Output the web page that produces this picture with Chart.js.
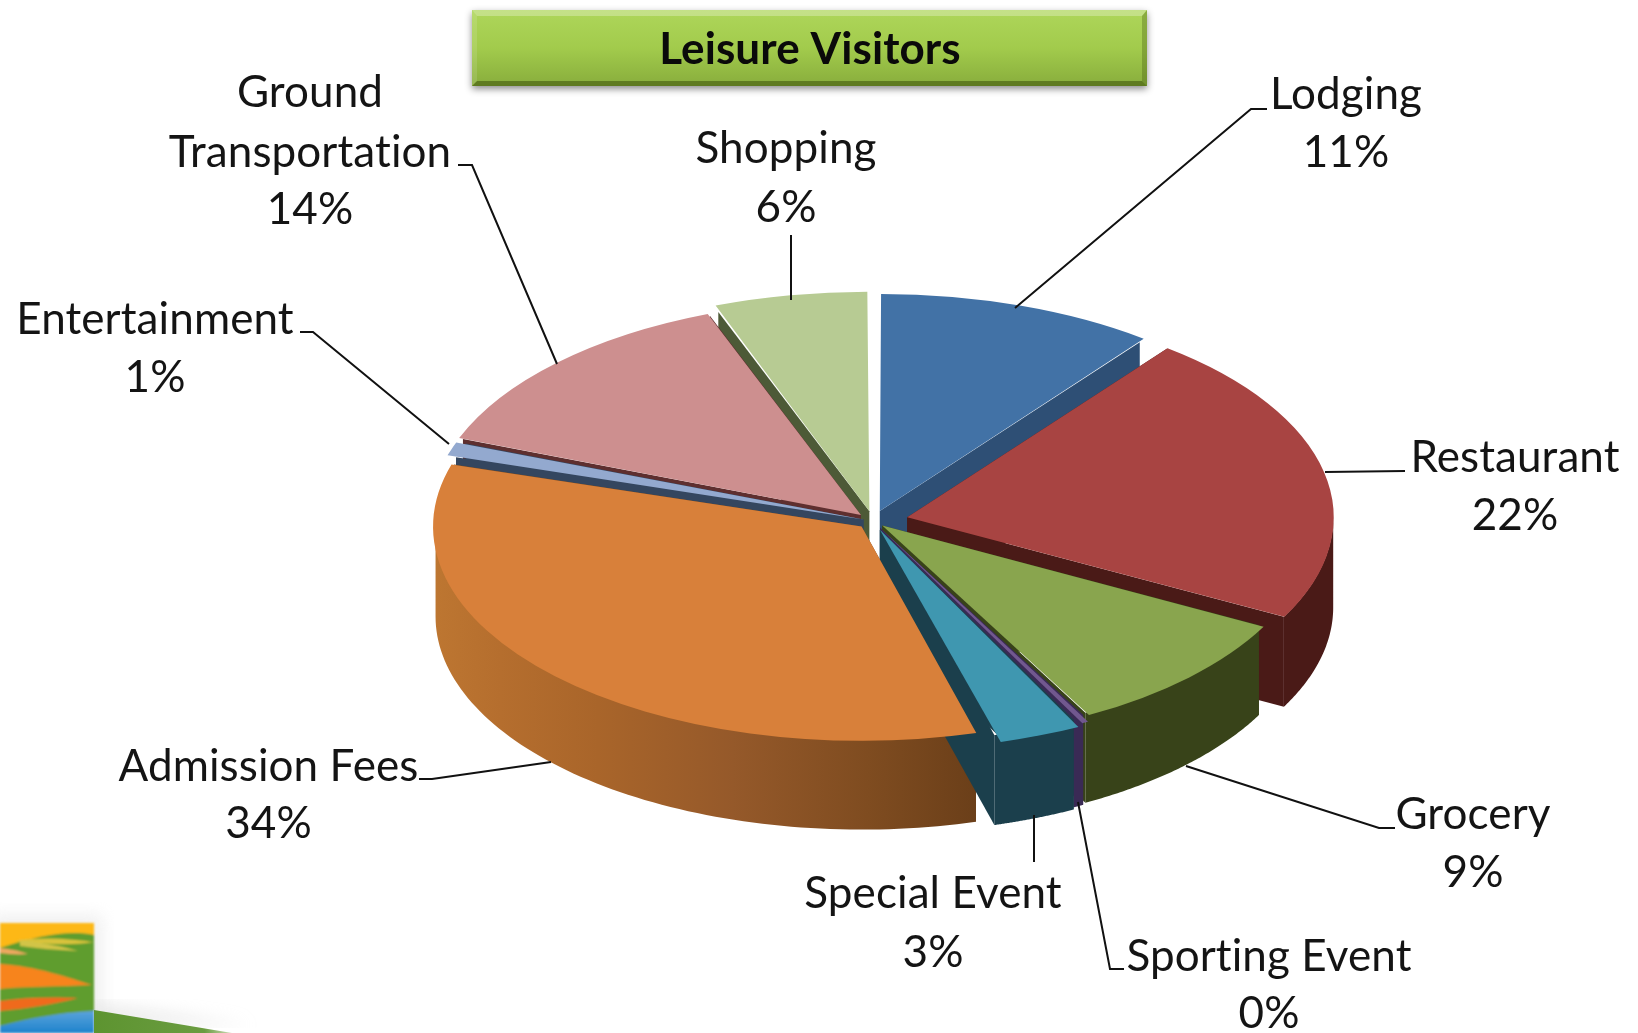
<!DOCTYPE html>
<html><head><meta charset="utf-8">
<style>
html,body{margin:0;padding:0;background:#fff;overflow:hidden}
#logo{position:absolute;left:0;top:0}
#c{position:absolute;left:0;top:0}
</style>
<script src="https://cdn.jsdelivr.net/npm/chart.js@4/dist/chart.umd.min.js"></script>
</head><body>
<svg id="logo" width="1638" height="1033" viewBox="0 0 1638 1033">
<defs>
<filter id="b"><feGaussianBlur stdDeviation="8"/></filter>
<filter id="s"><feGaussianBlur stdDeviation="0.9"/></filter>
<linearGradient id="sky" x1="0" y1="0" x2="0" y2="1"><stop offset="0" stop-color="#5ba3dc"/><stop offset="1" stop-color="#1e83cc"/></linearGradient>
<linearGradient id="ramp" x1="0" y1="0" x2="1" y2="0"><stop offset="0" stop-color="#5d9430"/><stop offset=".8" stop-color="#6a9c40"/><stop offset="1" stop-color="#cfdcb8"/></linearGradient>
</defs>
<rect x="-10" y="915" width="112" height="125" fill="#ddd" opacity=".45" filter="url(#b)"/>
<path d="M94 1010 L250 1033 L94 1033Z" fill="#d8d8d8" opacity=".5" filter="url(#b)" transform="translate(0,-8)"/>
<g filter="url(#s)">
<rect x="0" y="923" width="94" height="110" fill="#5f9d2e"/>
<path d="M0 923H94V935C70 930 40 935 0 948Z" fill="#fdb813"/>
<path d="M15 941C45 936 75 940 94 942C70 946 45 944 15 941Z" fill="#d9c33a"/>
<path d="M20 940C45 943 65 947 78 951C55 950 35 948 20 946Z" fill="#d2c446"/>
<path d="M0 948C10 949 20 951 28 954C18 955 8 954 0 953Z" fill="#f0a860"/>
<path d="M0 964C35 966 70 978 92 985C60 987 25 986 0 989Z" fill="#f7841e"/>
<path d="M0 1001C25 997 55 997 78 998C55 1004 25 1009 0 1011Z" fill="#ef6a1e"/>
<path d="M0 1026C30 1018 65 1012 94 1011V1033H0Z" fill="url(#sky)"/>
</g>
<path d="M94 1010 L232 1033 L94 1033Z" fill="url(#ramp)"/>
</svg>
<canvas id="c" width="1638" height="1033"></canvas>
<script>
const chartTitle = "Leisure Visitors";
const categories = ["Lodging","Restaurant","Grocery","Sporting Event","Special Event","Admission Fees","Entertainment","Ground Transportation","Shopping"];
const shares = [10.5,22.4,9.4,0.4,3.2,34.2,1.1,13.5,5.8];
const labelLines = [["Lodging"],["Restaurant"],["Grocery"],["Sporting Event"],["Special Event"],["Admission Fees"],["Entertainment"],["Ground","Transportation"],["Shopping"]];
const topColors = ["#4272a6","#a84442","#89a54e","#71588f","#3f97b0","#d8803a","#93a9cf","#cd8f8f","#b7cb93"];
const wallColors = ["#2e4f75","#4a1a17","#384319","#3a2a55","#1b3f4c","#7a4a20","#34465f","#5e2f2f","#4d5a37"];
const explode = [21,35,13,15,19,16,10,17,20];
const labelCentres = [[1346,[95,152.5]],[1515,[458,516]],[1473,[815,873]],[1269,[957,1014]],[933,[894,953]],[268.5,[767,824]],[155,[320,378]],[310,[93,152.5,210]],[786,[149,208]]];
const leaders = [
 [[1015,308],[1251,109],[1267,109]],
 [[1325,472],[1405,471]],
 [[1186,766],[1379,828],[1395,828]],
 [[1078,802],[1110,969],[1124,969]],
 [[1034,815],[1034,862]],
 [[551,762],[432,779],[419,779]],
 [[449,444],[313,332],[300,332]],
 [[557,364],[472,165],[458,165]],
 [[791,300],[791,235]]
];
const squash = 0.5, depth = 90, pieRadius = 426;
const labelFont = '44px Lato, "Noto Sans", sans-serif';

const pie3d = {
  id:'pie3d',
  beforeDatasetsDraw(chart){
    const ctx = chart.ctx, arcs = chart.getDatasetMeta(0).data;
    const cy = arcs[0].y;
    const order = arcs.map((el,i)=>{
      const mid=(el.startAngle+el.endAngle)/2; return {el,i,mid};
    }).sort((a,b)=>Math.sin(a.mid)-Math.sin(b.mid));
    for(const {el,i,mid} of order){
      const off = (el.options.offset||0)/4, r = el.outerRadius;
      const ox = el.x+off*Math.cos(mid), oy = el.y+off*Math.sin(mid);
      const P=(a,rr,z)=>[ox+rr*Math.cos(a), cy+(oy+rr*Math.sin(a)-cy)*squash+z];
      ctx.save();
      ctx.fillStyle = wallColors[i];
      for(const a of [el.startAngle,el.endAngle]){
        ctx.beginPath();
        [P(a,0,0),P(a,r,0),P(a,r,depth),P(a,0,depth)].forEach((p,n)=>n?ctx.lineTo(p[0],p[1]):ctx.moveTo(p[0],p[1]));
        ctx.closePath(); ctx.fill();
      }
      const a0 = Math.max(el.startAngle,0), a1 = Math.min(el.endAngle,Math.PI);
      if(a1>a0){
        const n=80, top=[], bot=[];
        for(let k=0;k<=n;k++){const a=a0+(a1-a0)*k/n; top.push(P(a,r,0)); bot.push(P(a,r,depth));}
        const xs = top.map(p=>p[0]), xmin=Math.min(...xs), xmax=Math.max(...xs);
        if(i===5){
          const g=ctx.createLinearGradient(xmin,0,xmax,0);
          g.addColorStop(0,'#bd7631'); g.addColorStop(.12,'#b56e2e'); g.addColorStop(.3,'#a9652a');
          g.addColorStop(.55,'#95592a'); g.addColorStop(.8,'#7f4c20'); g.addColorStop(1,'#6b3f19');
          ctx.fillStyle=g;
        }
        ctx.beginPath();
        top.forEach((p,n)=>n?ctx.lineTo(p[0],p[1]):ctx.moveTo(p[0],p[1]));
        bot.reverse().forEach(p=>ctx.lineTo(p[0],p[1]));
        ctx.closePath(); ctx.fill();
      }
      ctx.restore();
    }
    ctx.save();
    ctx.translate(0,cy); ctx.scale(1,squash); ctx.translate(0,-cy);
  },
  afterDatasetsDraw(chart){
    const ctx = chart.ctx;
    ctx.restore();
    ctx.save();
    ctx.strokeStyle='#111'; ctx.lineWidth=2;
    leaders.forEach(l=>{ctx.beginPath(); l.forEach((p,n)=>n?ctx.lineTo(p[0],p[1]):ctx.moveTo(p[0],p[1])); ctx.stroke();});
    ctx.fillStyle='#141414'; ctx.font=labelFont; ctx.textAlign='center'; ctx.textBaseline='middle';
    ctx.letterSpacing='0.1px';
    categories.forEach((c,i)=>{
      const [x,ys]=labelCentres[i];
      const lines=[...labelLines[i], Math.round(shares[i])+'%'];
      lines.forEach((t,j)=>ctx.fillText(t,x,ys[j]));
    });
    const L=472,T=10,R=1147,B=86;
    ctx.save();
    ctx.shadowColor='rgba(0,0,0,.45)'; ctx.shadowBlur=7; ctx.shadowOffsetY=3;
    const g=ctx.createLinearGradient(0,T,0,B);
    g.addColorStop(0,'#aed65a'); g.addColorStop(.5,'#a2cb4c'); g.addColorStop(1,'#88ad3c');
    ctx.fillStyle=g; ctx.fillRect(L,T,R-L,B-T);
    ctx.restore();
    ctx.fillStyle='rgba(255,255,255,.28)';
    ctx.beginPath(); ctx.moveTo(L,T); ctx.lineTo(R,T); ctx.lineTo(R-5,T+6); ctx.lineTo(L+5,T+6); ctx.closePath(); ctx.fill();
    ctx.fillStyle='rgba(60,80,10,.55)';
    ctx.beginPath(); ctx.moveTo(L,B); ctx.lineTo(R,B); ctx.lineTo(R-5,B-5); ctx.lineTo(L+5,B-5); ctx.closePath(); ctx.fill();
    ctx.fillStyle='rgba(255,255,255,.12)';
    ctx.beginPath(); ctx.moveTo(L,T); ctx.lineTo(L+5,T+6); ctx.lineTo(L+5,B-5); ctx.lineTo(L,B); ctx.closePath(); ctx.fill();
    ctx.fillStyle='rgba(60,80,10,.3)';
    ctx.beginPath(); ctx.moveTo(R,T); ctx.lineTo(R-5,T+6); ctx.lineTo(R-5,B-5); ctx.lineTo(R,B); ctx.closePath(); ctx.fill();
    ctx.fillStyle='#0a0a0a'; ctx.font='bold 44px Lato, "Noto Sans", sans-serif';
    ctx.fillText(chartTitle,810,50);
    ctx.restore();
  }
};

new Chart(document.getElementById('c'),{
  type:'pie',
  data:{labels:categories,datasets:[{data:shares,backgroundColor:topColors,borderWidth:0,offset:explode.map(d=>d*4),clip:false}]},
  options:{
    responsive:false,animation:false,events:[],radius:pieRadius,
    layout:{padding:{left:108,top:9}},
    plugins:{legend:{display:false},tooltip:{enabled:false},title:{display:false}}
  },
  plugins:[pie3d]
});
</script>
</body></html>
